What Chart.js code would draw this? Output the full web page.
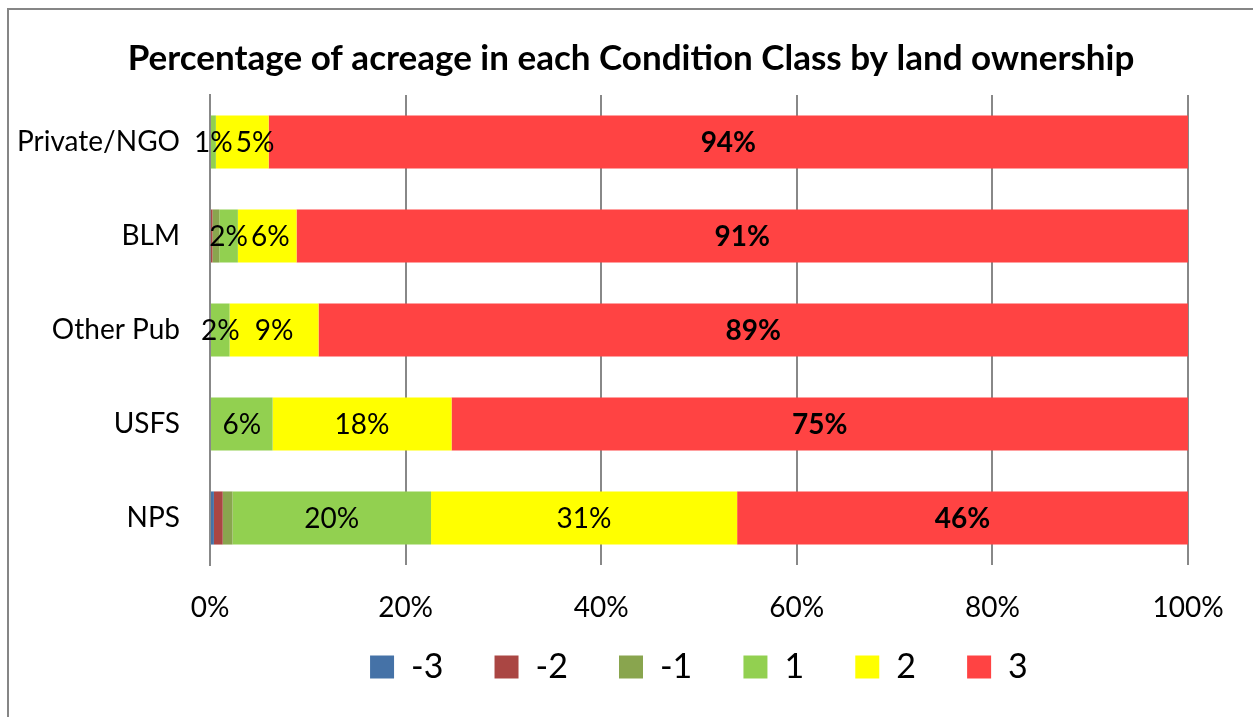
<!DOCTYPE html>
<html>
<head>
<meta charset="utf-8">
<script src="https://cdn.jsdelivr.net/npm/chart.js@4.4.0/dist/chart.umd.min.js"></script>
<style>
  html, body { margin: 0; padding: 0; background: #ffffff; }
  canvas { display: block; }
</style>
</head>
<body>
<canvas id="c" width="1253" height="717"></canvas>
<script>
// ---- data ----
const categories = ['Private/NGO', 'BLM', 'Other Pub', 'USFS', 'NPS'];
const seriesNames = ['-3', '-2', '-1', '1', '2', '3'];
const classM3 = [0, 0, 0, 0, 0.4];
const classM2 = [0, 0.25, 0, 0, 0.9];
const classM1 = [0, 0.7, 0, 0, 1.0];
const class1 = [0.6, 1.9, 2.0, 6.4, 20.3];
const class2 = [5.4, 6.0, 9.1, 18.3, 31.3];
const class3 = [94.0, 91.15, 88.9, 75.3, 46.1];
const xTicks = [0, 20, 40, 60, 80, 100];
const labelledSeries = ['1', '2', '3'];
const boldSeries = ['3'];

const colors = ['#4572A7', '#AA4643', '#89A54E', '#92D050', '#FFFF00', '#FF4343'];
const seriesValues = [classM3, classM2, classM1, class1, class2, class3];

const FONT = 'Lato, "Open Sans", sans-serif';

const borderPlugin = {
  id: 'outerBorder',
  beforeDraw(chart) {
    const ctx = chart.ctx;
    ctx.save();
    ctx.fillStyle = '#ffffff';
    ctx.fillRect(0, 0, chart.width, chart.height);
    ctx.strokeStyle = '#868686';
    ctx.lineWidth = 2;
    ctx.strokeRect(8, 9, 1400, 900);
    ctx.restore();
  }
};

const legendShift = {
  id: 'legendShift',
  afterLayout(chart) {
    if (chart.legend) {
      chart.legend.left += 13;
      chart.legend.right += 13;
    }
  }
};

const labelPlugin = {
  id: 'segLabels',
  afterDatasetsDraw(chart) {
    const ctx = chart.ctx;
    ctx.save();
    ctx.textBaseline = 'middle';
    ctx.textAlign = 'left';
    ctx.fillStyle = '#000000';
    for (let i = 0; i < categories.length; i++) {
      let prevRight = -Infinity;
      chart.data.datasets.forEach((ds, d) => {
        if (!labelledSeries.includes(ds.label)) return;
        const v = ds.data[i];
        if (!v) return;
        const el = chart.getDatasetMeta(d).data[i];
        const bold = boldSeries.includes(ds.label);
        ctx.font = (bold ? 'bold ' : '') + '28px ' + FONT;
        const txt = Math.round(v) + '%';
        const w = ctx.measureText(txt).width;
        const cx = (el.x + el.base) / 2;
        let left = cx - w / 2;
        if (left < prevRight + 3) left = prevRight + 3;
        ctx.fillText(txt, left, el.y + 1);
        prevRight = left + w;
      });
    }
    ctx.restore();
  }
};

new Chart(document.getElementById('c'), {
  type: 'bar',
  data: {
    labels: categories,
    datasets: seriesNames.map((n, k) => ({
      label: n,
      data: seriesValues[k],
      backgroundColor: colors[k],
      borderWidth: 0,
      barPercentage: 0.565,
      categoryPercentage: 1.0
    }))
  },
  options: {
    indexAxis: 'y',
    responsive: false,
    animation: false,
    layout: { padding: { left: 9, right: 0, top: 0, bottom: 23 } },
    scales: {
      x: {
        stacked: true,
        min: 0,
        max: 100,
        afterBuildTicks: s => { s.ticks = xTicks.map(v => ({ value: v })); },
        ticks: {
          callback: v => v + '%',
          color: '#000',
          font: { family: FONT, size: 28 },
          padding: 26,
          maxRotation: 0
        },
        grid: { color: '#888888', lineWidth: 2, drawTicks: false },
        border: { display: false },
        afterFit: s => { s.height = 60; }
      },
      y: {
        stacked: true,
        ticks: {
          color: '#000',
          font: { family: FONT, size: 28 },
          padding: 30
        },
        grid: { display: false, drawTicks: false },
        border: { display: true, color: '#888888', width: 2 },
        afterFit: s => { s.width = 201; }
      },
      y2: {
        type: 'linear',
        position: 'right',
        display: true,
        ticks: { display: false },
        grid: { display: false, drawTicks: false },
        border: { display: false },
        afterFit: s => { s.width = 65; }
      }
    },
    plugins: {
      title: {
        display: true,
        text: 'Percentage of acreage in each Condition Class by land ownership',
        color: '#000',
        font: { family: FONT, size: 35, weight: 'bold', lineHeight: 1.2 },
        padding: { top: 38, bottom: 15 }
      },
      legend: {
        position: 'bottom',
        fullSize: false,
        labels: {
          color: '#000',
          font: { family: FONT, size: 34 },
          boxWidth: 24,
          boxHeight: 23,
          padding: 25,
          generateLabels: chart => Chart.defaults.plugins.legend.labels.generateLabels(chart)
            .map(item => Object.assign(item, { text: item.text + '   ' }))
        }
      },
      tooltip: { enabled: false }
    }
  },
  plugins: [borderPlugin, legendShift, labelPlugin]
});
</script>
</body>
</html>
